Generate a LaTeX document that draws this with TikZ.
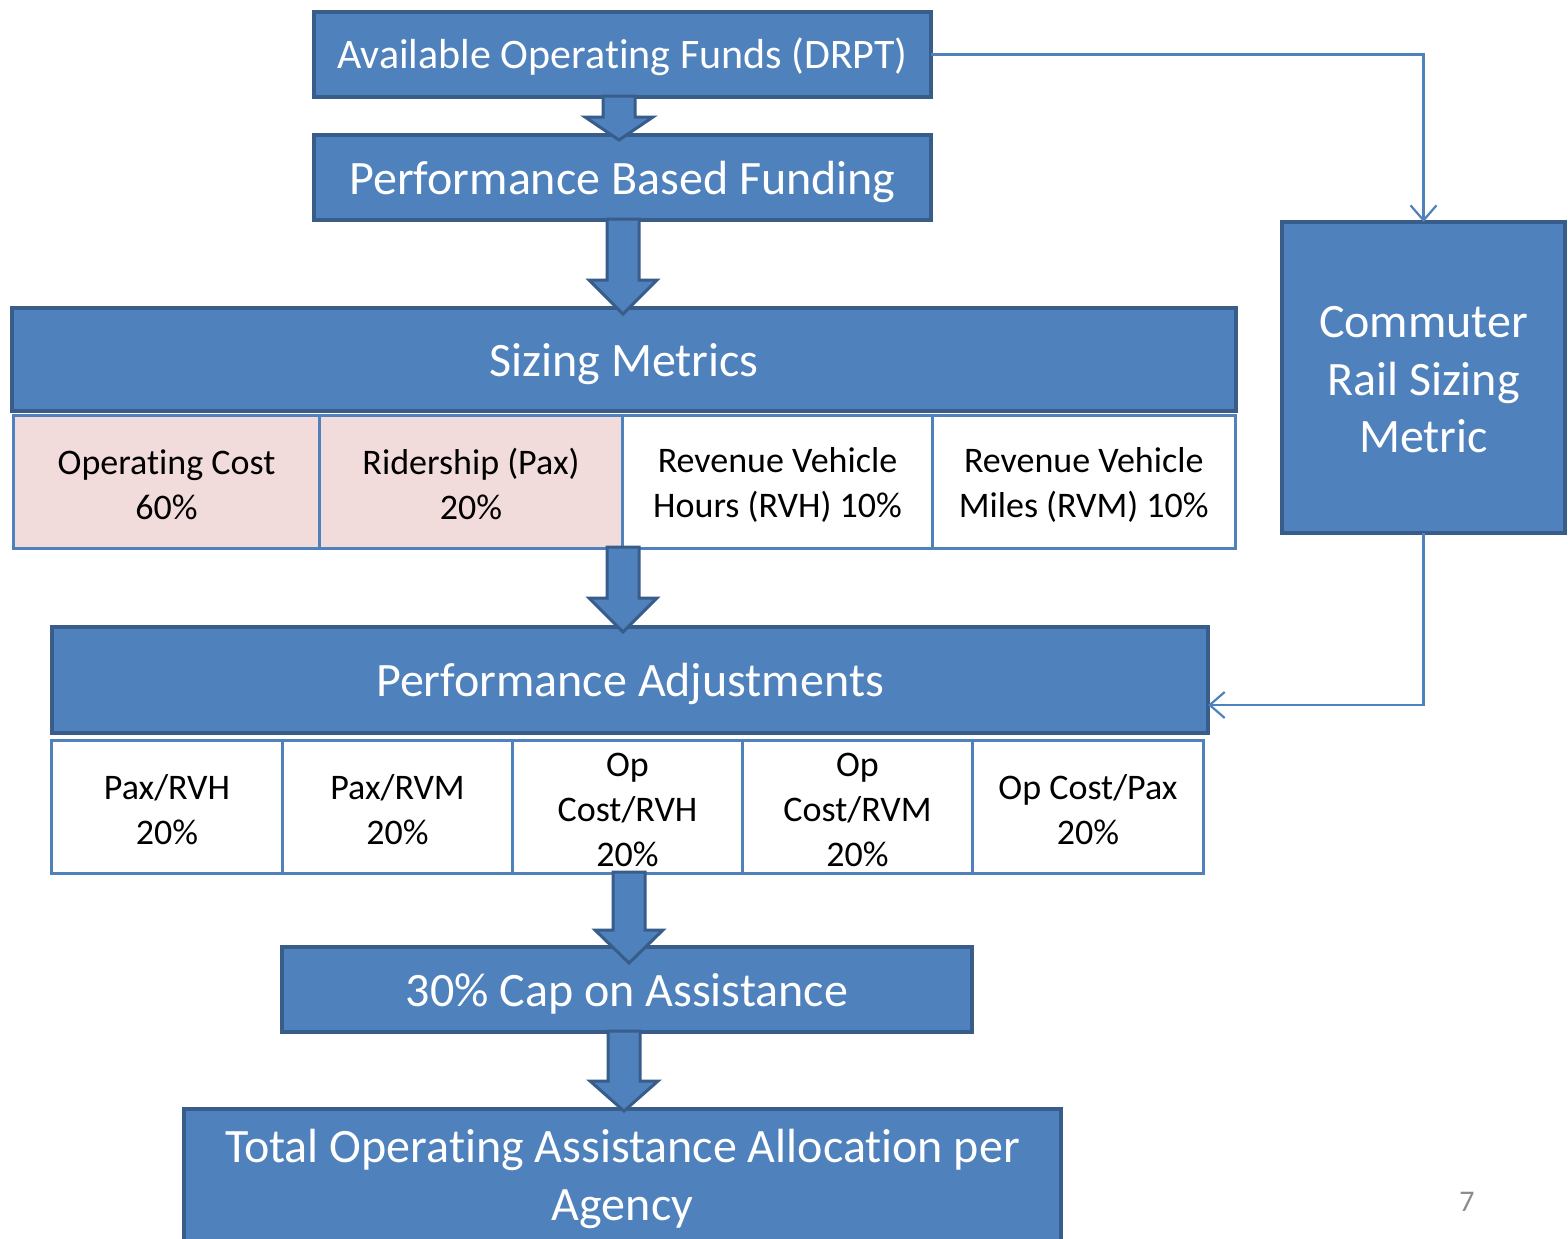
\documentclass[tikz,border=0pt]{standalone}
\usepackage{fontspec}
\setmainfont{Carlito}[Ligatures=NoCommon]
\usetikzlibrary{calc,arrows.meta}
\definecolor{fillblue}{HTML}{4F81BD}
\definecolor{bordblue}{HTML}{385D8A}
\definecolor{pinkfill}{HTML}{F2DCDB}
\definecolor{pagegray}{HTML}{8C8C8C}
\newcommand{\fstrut}[1]{\rule{0pt}{#1}}
% #1 x-coordinate name, #2 from node, #3 to node, #4 tip depth into target, #5 head length
\newcommand{\blockarrow}[5]{%
  \path (#2.south -| #1) coordinate (ba-s);
  \path (#3.north -| #1) coordinate (ba-t0);
  \path ($(ba-t0)+(0,#4)$) coordinate (ba-t);
  \draw[blockarrowstyle] ($(ba-s)+(-16,-1)$) -- ($(ba-t)+(-16,-#5)$) -- ($(ba-t)+(-34,-#5)$) -- (ba-t)
     -- ($(ba-t)+(34,-#5)$) -- ($(ba-t)+(16,-#5)$) -- ($(ba-s)+(16,-1)$) -- cycle;
}
\begin{document}
\begin{tikzpicture}[x=1bp,y=-1bp,
  textstrut/.style={execute at begin node={\rule{0pt}{#1}}},
  bluebox/.style={draw=bordblue, fill=fillblue, line width=3.5bp, text=white, align=center,
    inner sep=0pt, outer sep=0pt, font=\fontsize{48bp}{58bp}\selectfont},
  singlebox/.style={bluebox, textstrut=42bp},
  cellbox/.style={draw=fillblue, fill=white, line width=3bp, align=center, inner sep=0pt,
    outer sep=0pt, text=black, font=\fontsize{36bp}{45bp}\selectfont},
  pinkcell/.style={cellbox, fill=pinkfill},
  blockarrowstyle/.style={draw=bordblue, fill=fillblue, line width=3bp, line join=miter},
  thinarrow/.style={draw=fillblue, line width=2.2bp, -{Straight Barb[length=15bp,width=26bp]}}]
\fill[white] (0,0) rectangle (1568,1238);
\useasboundingbox (0,0) rectangle (1568,1238);

% main boxes
\node[bluebox, textstrut=36bp, minimum width=617bp, minimum height=85bp, font=\fontsize{42bp}{50bp}\selectfont]
  (funds) at (622.5,54.5) {Available Operating Funds (DRPT)};
\node[singlebox, minimum width=617bp, minimum height=85bp] (pbf) at (622.5,177.5) {Performance Based Funding};
\node[bluebox, textstrut=43bp, minimum width=1224bp, minimum height=103bp] (sizing) at (624,359.5) {Sizing Metrics};

% sizing metric cells
\node[pinkcell, minimum width=306bp, minimum height=133bp] (opcost) at (166.5,481.5) {\fstrut{31bp}Operating Cost\\60\%};
\node[pinkcell, minimum width=303bp, minimum height=133bp] (rider) at (471,481.5) {\fstrut{31bp}Ridership (Pax)\\20\%};
\node[cellbox, minimum width=310bp, minimum height=133bp] (rvh) at (777.5,481.5) {\fstrut{31bp}Revenue Vehicle\\Hours (RVH) 10\%};
\node[cellbox, minimum width=302.5bp, minimum height=133bp] (rvm) at (1083.75,481.5) {\fstrut{31bp}Revenue Vehicle\\Miles (RVM) 10\%};

% commuter rail
\node[bluebox, minimum width=283bp, minimum height=311bp, font=\fontsize{48bp}{57.5bp}\selectfont]
  (comm) at (1423.5,377.5) {\fstrut{36bp}Commuter\\Rail Sizing\\Metric};

% performance adjustments
\node[singlebox, minimum width=1156bp, minimum height=106bp] (perf) at (630,680) {Performance Adjustments};
\node[cellbox, minimum width=231bp, minimum height=133bp] (paxrvh) at (167,806.5) {\fstrut{31bp}Pax/RVH\\20\%};
\node[cellbox, minimum width=230bp, minimum height=133bp] (paxrvm) at (397.5,806.5) {\fstrut{31bp}Pax/RVM\\20\%};
\node[cellbox, minimum width=230bp, minimum height=133bp] (oprvh) at (627.5,806.5) {\fstrut{31bp}Op\\Cost/RVH\\20\%};
\node[cellbox, minimum width=230bp, minimum height=133bp] (oprvm) at (857.5,806.5) {\fstrut{31bp}Op\\Cost/RVM\\20\%};
\node[cellbox, minimum width=231bp, minimum height=133bp] (oppax) at (1088,806.5) {\fstrut{31bp}Op Cost/Pax\\20\%};

% cap and total
\node[singlebox, minimum width=690bp, minimum height=85bp] (cap) at (627,989.5) {30\% Cap on Assistance};
\node[bluebox, minimum width=877bp, minimum height=132bp] (total) at (622.5,1175)
  {\fstrut{42bp}Total Operating Assistance Allocation per\\Agency};

% page number
\node[text=pagegray, font=\fontsize{30bp}{36bp}\selectfont, inner sep=0pt] (pagenum) at (1467,1202) {7};

% block arrows
\coordinate (xa) at (619,0);
\coordinate (xb) at (623,0);
\coordinate (xc) at (629,0);
\coordinate (xd) at (624,0);
\blockarrow{xa}{funds}{pbf}{5}{23}
\blockarrow{xb}{pbf}{sizing}{6}{34}
\blockarrow{xb}{rider}{perf}{5}{34}
\blockarrow{xc}{oprvh}{cap}{16}{33}
\blockarrow{xd}{cap}{total}{2}{30}

% thin connectors
\draw[thinarrow] (funds.east) -| (comm.north);
\draw[thinarrow] (comm.south) |- ($(perf.east)+(0,25)$);
\end{tikzpicture}
\end{document}
